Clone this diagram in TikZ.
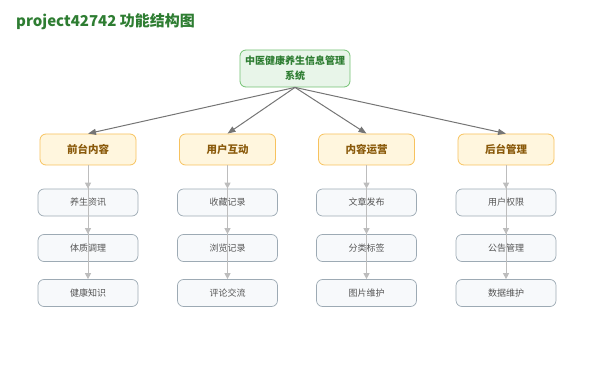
\documentclass[tikz,border=0pt]{standalone}
\usepackage{fontspec}
\setmainfont{Noto Sans CJK SC}
\usetikzlibrary{arrows.meta}
\definecolor{titlegreen}{HTML}{2E7D32}
\definecolor{rootfill}{HTML}{E8F5E9}
\definecolor{rootdraw}{HTML}{72C172}
\definecolor{catfill}{HTML}{FFF6DE}
\definecolor{catdraw}{HTML}{F7C25E}
\definecolor{cattext}{HTML}{8A5A0B}
\definecolor{leaffill}{HTML}{F7F9FB}
\definecolor{leafdraw}{HTML}{9DAAB4}
\definecolor{leaftext}{HTML}{555555}
\definecolor{mainline}{HTML}{757575}
\definecolor{subline}{HTML}{BDBDBD}
\tikzset{
  rootbox/.style={draw=rootdraw, fill=rootfill, line width=0.8pt, rounded corners=6pt,
    minimum width=110pt, minimum height=37pt, inner sep=0pt, align=center,
    text=titlegreen, font=\fontsize{10}{15}\selectfont\bfseries},
  catbox/.style={draw=catdraw, fill=catfill, line width=0.8pt, rounded corners=6pt,
    minimum width=96pt, minimum height=31pt, inner sep=0pt,
    text=cattext, font=\fontsize{10.5}{12}\selectfont\bfseries},
  leafbox/.style={draw=leafdraw, fill=leaffill, line width=0.7pt, rounded corners=6pt,
    minimum width=100pt, minimum height=27pt, inner sep=0pt,
    text=leaftext, font=\fontsize{9}{11}\selectfont},
  mainarrow/.style={draw=mainline, line width=1pt, -{Triangle[length=8pt,width=6pt]}},
  subarrow/.style={draw=subline, line width=1pt, -{Triangle[length=6pt,width=6pt]}},
}
\begin{document}
\begin{tikzpicture}[x=1pt,y=-1pt]
\useasboundingbox (0,0) rectangle (591,374);
\node[anchor=west, text=titlegreen, font=\fontsize{15}{18}\selectfont\bfseries, inner sep=0pt] (title) at (16,22) {project42742 功能结构图};
\node[rootbox] (root) at (295,68.5) {中医健康养生信息管理\\系统};
\foreach \i/\x/\c/\a/\b/\d in {
  1/88/前台内容/养生资讯/体质调理/健康知识,
  2/227.5/用户互动/收藏记录/浏览记录/评论交流,
  3/366.5/内容运营/文章发布/分类标签/图片维护,
  4/506/后台管理/用户权限/公告管理/数据维护}{
  \node[catbox] (c\i) at (\x,149.5) {\c};
  \node[leafbox] (l\i a) at (\x,202.5) {\a};
  \node[leafbox] (l\i b) at (\x,248) {\b};
  \node[leafbox] (l\i c) at (\x,293) {\d};
  \draw[mainarrow] (root.south) -- (c\i.north);
  \draw[subarrow] (c\i.south) -- (l\i a.north);
  \draw[subarrow] (c\i.south) -- (l\i b.north);
  \draw[subarrow] (c\i.south) -- (l\i c.north);
}
\end{tikzpicture}
\end{document}
